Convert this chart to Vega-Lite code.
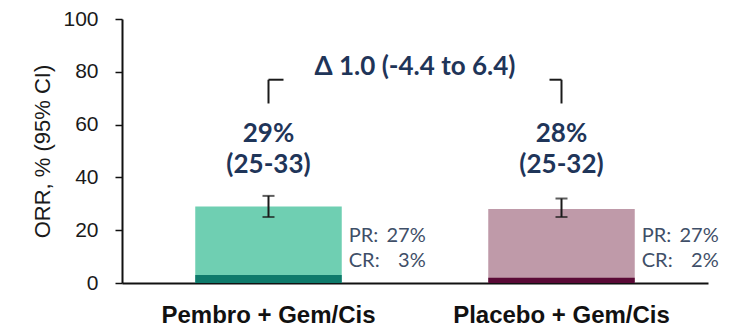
{
  "$schema": "https://vega.github.io/schema/vega-lite/v6.json",
  "width": 586,
  "height": 264,
  "autosize": {"type": "none"},
  "padding": {"left": 122, "top": 19, "right": 40, "bottom": 52},
  "background": "white",
  "config": {
    "view": {"stroke": null},
    "axis": {"grid": false}
  },
  "datasets": {
    "arms": [
      {"arm": "Pembro + Gem/Cis", "orr": 29, "pr": 27, "cr": 3, "lo": 25, "hi": 33, "orr_label": "29%", "ci_label": "(25-33)", "pr_label": "27%", "cr_label": "3%"},
      {"arm": "Placebo + Gem/Cis", "orr": 28, "pr": 27, "cr": 2, "lo": 25, "hi": 32, "orr_label": "28%", "ci_label": "(25-32)", "pr_label": "27%", "cr_label": "2%"}
    ],
    "delta": [
      {"from": "Pembro + Gem/Cis", "to": "Placebo + Gem/Cis", "label": "Δ 1.0 (-4.4 to 6.4)"}
    ]
  },
  "layer": [
    {
      "data": {"name": "arms"},
      "encoding": {
        "x": {
          "field": "arm",
          "type": "nominal",
          "sort": null,
          "scale": {"paddingInner": 0.5, "paddingOuter": 0.25},
          "axis": {
            "title": null,
            "labelAngle": 0,
            "labelLimit": 0,
            "ticks": false,
            "labelPadding": 20,
            "labelFont": "Liberation Sans",
            "labelFontSize": 24,
            "labelFontWeight": "bold",
            "labelColor": "#111111",
            "domainColor": "#111111",
            "domainWidth": 2
          }
        }
      },
      "layer": [
        {
          "mark": {"type": "bar"},
          "encoding": {
            "y": {
              "field": "orr",
              "type": "quantitative",
              "scale": {"domain": [0, 100], "nice": false},
              "axis": {
                "title": "ORR, % (95% CI)",
                "values": [0, 20, 40, 60, 80, 100],
                "titleFont": "Liberation Sans",
                "titleFontSize": 22,
                "titleFontWeight": "normal",
                "titleColor": "#1a1a1a",
                "titleX": -80,
                "titleY": 132,
                "titleBaseline": "middle",
                "labelFont": "Liberation Sans",
                "labelFontSize": 21,
                "labelColor": "#1a1a1a",
                "labelPadding": 17,
                "tickSize": 7,
                "tickWidth": 1.5,
                "tickColor": "#111111",
                "domainColor": "#111111",
                "domainWidth": 2
              }
            },
            "color": {
              "condition": {"test": "datum.arm === 'Pembro + Gem/Cis'", "value": "#6fcfb2"},
              "value": "#bf9aa9"
            }
          }
        },
        {
          "mark": {"type": "bar"},
          "encoding": {
            "y": {"field": "cr", "type": "quantitative"},
            "color": {
              "condition": {"test": "datum.arm === 'Pembro + Gem/Cis'", "value": "#0e7a6b"},
              "value": "#5a0a36"
            }
          }
        },
        {
          "mark": {"type": "rule", "color": "#1a1a1a", "strokeWidth": 2},
          "encoding": {
            "y": {"field": "lo", "type": "quantitative"},
            "y2": {"field": "hi"}
          }
        },
        {
          "mark": {"type": "tick", "orient": "horizontal", "color": "#1a1a1a", "size": 12, "thickness": 2},
          "encoding": {"y": {"field": "lo", "type": "quantitative"}}
        },
        {
          "mark": {"type": "tick", "orient": "horizontal", "color": "#1a1a1a", "size": 12, "thickness": 2},
          "encoding": {"y": {"field": "hi", "type": "quantitative"}}
        },
        {
          "mark": {"type": "text", "font": "Lato", "fontSize": 26, "fontWeight": "bold", "color": "#1f3559", "baseline": "alphabetic"},
          "encoding": {
            "y": {"datum": 53.4},
            "text": {"field": "orr_label"}
          }
        },
        {
          "mark": {"type": "text", "font": "Lato", "fontSize": 26, "fontWeight": "bold", "color": "#1f3559", "baseline": "alphabetic"},
          "encoding": {
            "y": {"datum": 41.7},
            "text": {"field": "ci_label"}
          }
        },
        {
          "mark": {"type": "text", "font": "Lato", "fontSize": 20, "color": "#3f4f68", "align": "left", "baseline": "alphabetic", "dx": 7},
          "encoding": {
            "x": {"field": "arm", "type": "nominal", "bandPosition": 1},
            "y": {"datum": 15.5},
            "text": {"value": "PR:"}
          }
        },
        {
          "mark": {"type": "text", "font": "Lato", "fontSize": 20, "color": "#3f4f68", "align": "right", "baseline": "alphabetic", "dx": 84},
          "encoding": {
            "x": {"field": "arm", "type": "nominal", "bandPosition": 1},
            "y": {"datum": 15.5},
            "text": {"field": "pr_label"}
          }
        },
        {
          "mark": {"type": "text", "font": "Lato", "fontSize": 20, "color": "#3f4f68", "align": "left", "baseline": "alphabetic", "dx": 7},
          "encoding": {
            "x": {"field": "arm", "type": "nominal", "bandPosition": 1},
            "y": {"datum": 6.1},
            "text": {"value": "CR:"}
          }
        },
        {
          "mark": {"type": "text", "font": "Lato", "fontSize": 20, "color": "#3f4f68", "align": "right", "baseline": "alphabetic", "dx": 84},
          "encoding": {
            "x": {"field": "arm", "type": "nominal", "bandPosition": 1},
            "y": {"datum": 6.1},
            "text": {"field": "cr_label"}
          }
        }
      ]
    },
    {
      "data": {"name": "delta"},
      "layer": [
        {
          "mark": {"type": "rule", "color": "#1a1a1a", "strokeWidth": 2},
          "encoding": {
            "x": {"field": "from", "type": "nominal"},
            "y": {"datum": 68},
            "y2": {"datum": 77}
          }
        },
        {
          "mark": {"type": "rule", "color": "#1a1a1a", "strokeWidth": 2},
          "encoding": {
            "x": {"field": "to", "type": "nominal"},
            "y": {"datum": 68},
            "y2": {"datum": 77}
          }
        },
        {
          "mark": {"type": "rule", "color": "#1a1a1a", "strokeWidth": 2, "x2Offset": 15},
          "encoding": {
            "x": {"field": "from", "type": "nominal", "bandPosition": 0.5},
            "x2": {"field": "from", "bandPosition": 0.5},
            "y": {"datum": 77}
          }
        },
        {
          "mark": {"type": "rule", "color": "#1a1a1a", "strokeWidth": 2, "xOffset": -12},
          "encoding": {
            "x": {"field": "to", "type": "nominal", "bandPosition": 0.5},
            "x2": {"field": "to", "bandPosition": 0.5},
            "y": {"datum": 77}
          }
        },
        {
          "mark": {"type": "text", "font": "Lato", "fontSize": 26, "fontWeight": "bold", "color": "#1f3559", "baseline": "alphabetic"},
          "encoding": {
            "y": {"datum": 78.8},
            "text": {"field": "label"}
          }
        }
      ]
    }
  ]
}
